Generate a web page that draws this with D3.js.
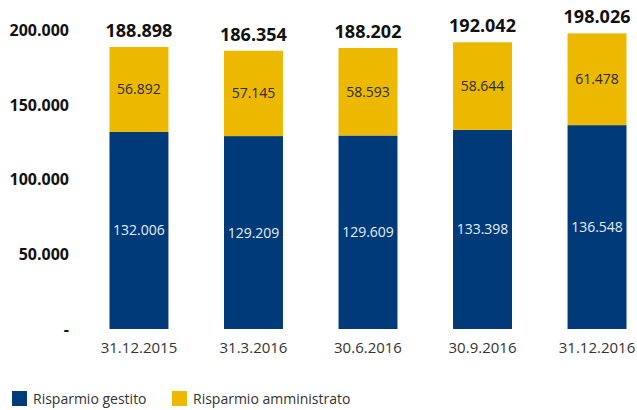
<!DOCTYPE html>
<html lang="it">
<head>
    <meta charset="utf-8">
    <title>Risparmio gestito e amministrato</title>
    <script type="text/javascript" src="https://d3js.org/d3.v7.min.js"></script>
    <style type="text/css">
        body { margin: 0; background: #fff; }
        text { font-family: "Open Sans", sans-serif; }
    </style>
</head>
<body>
<script type="text/javascript">

var dates = ["31.12.2015", "31.3.2016", "30.6.2016", "30.9.2016", "31.12.2016"];
var gestito = [132006, 129209, 129609, 133398, 136548];
var amministrato = [56892, 57145, 58593, 58644, 61478];
var totali = [188898, 186354, 188202, 192042, 198026];
var yTicks = [0, 50000, 100000, 150000, 200000];
var seriesNames = ["Risparmio gestito", "Risparmio amministrato"];
var colors = ["#003a78", "#ecb900"];

var width = 637, height = 410;

// numbers in italian style: 188.898
var fmt = function(v) {
    if (v === 0) return "-";
    return d3.format(",")(v).replace(/,/g, ".");
};

var svg = d3.select("body")
    .append("svg")
    .attr("width", width)
    .attr("height", height);

var x = d3.scaleBand()
    .domain(dates)
    .range([82, 654])
    .paddingInner(0.485)
    .paddingOuter(0.24);

var y = d3.scaleLinear()
    .domain([0, 200000])
    .range([329, 30.4]);

// y axis labels
svg.append("g")
    .selectAll("text")
    .data(yTicks)
    .enter()
    .append("text")
    .attr("x", 69)
    .attr("y", function(d) { return y(d); })
    .attr("dy", "0.36em")
    .attr("text-anchor", "end")
    .attr("font-size", 16)
    .attr("font-weight", "bold")
    .attr("fill", "#111")
    .text(fmt);

var rows = dates.map(function(d, i) {
    return { date: d, g: gestito[i], a: amministrato[i], t: totali[i] };
});

var bar = svg.selectAll(".bar")
    .data(rows)
    .enter()
    .append("g")
    .attr("class", "bar");

bar.append("rect")
    .attr("x", function(d) { return x(d.date); })
    .attr("width", x.bandwidth())
    .attr("y", function(d) { return y(d.g); })
    .attr("height", function(d) { return y(0) - y(d.g); })
    .attr("fill", colors[0]);

bar.append("rect")
    .attr("x", function(d) { return x(d.date); })
    .attr("width", x.bandwidth())
    .attr("y", function(d) { return y(d.g + d.a); })
    .attr("height", function(d) { return y(d.g) - y(d.g + d.a); })
    .attr("fill", colors[1]);

var cx = function(d) { return x(d.date) + x.bandwidth() / 2; };

bar.append("text")
    .attr("x", cx)
    .attr("y", function(d) { return (y(0) + y(d.g)) / 2; })
    .attr("dy", "0.36em")
    .attr("text-anchor", "middle")
    .attr("font-size", 14)
    .attr("fill", "#e6ecf4")
    .text(function(d) { return fmt(d.g); });

bar.append("text")
    .attr("x", cx)
    .attr("y", function(d) { return (y(d.g) + y(d.g + d.a)) / 2; })
    .attr("dy", "0.36em")
    .attr("text-anchor", "middle")
    .attr("font-size", 14)
    .attr("fill", "#2a2a2a")
    .text(function(d) { return fmt(d.a); });

bar.append("text")
    .attr("x", cx)
    .attr("y", function(d) { return y(d.t) - 10; })
    .attr("text-anchor", "middle")
    .attr("font-size", 18)
    .attr("font-weight", "bold")
    .attr("fill", "#111")
    .text(function(d) { return fmt(d.t); });

bar.append("text")
    .attr("x", cx)
    .attr("y", 348)
    .attr("dy", "0.36em")
    .attr("text-anchor", "middle")
    .attr("font-size", 15)
    .attr("fill", "#333")
    .text(function(d) { return d.date; });

// legend
var legend = svg.selectAll(".legend")
    .data(seriesNames)
    .enter()
    .append("g")
    .attr("class", "legend")
    .attr("transform", function(d, i) { return "translate(" + (12 + i * 160) + ",391)"; });

legend.append("rect")
    .attr("width", 15)
    .attr("height", 15)
    .attr("fill", function(d, i) { return colors[i]; });

legend.append("text")
    .attr("x", 21)
    .attr("y", 7.5)
    .attr("dy", "0.36em")
    .attr("font-size", 14)
    .attr("fill", "#333")
    .text(function(d) { return d; });

</script>
</body>
</html>
